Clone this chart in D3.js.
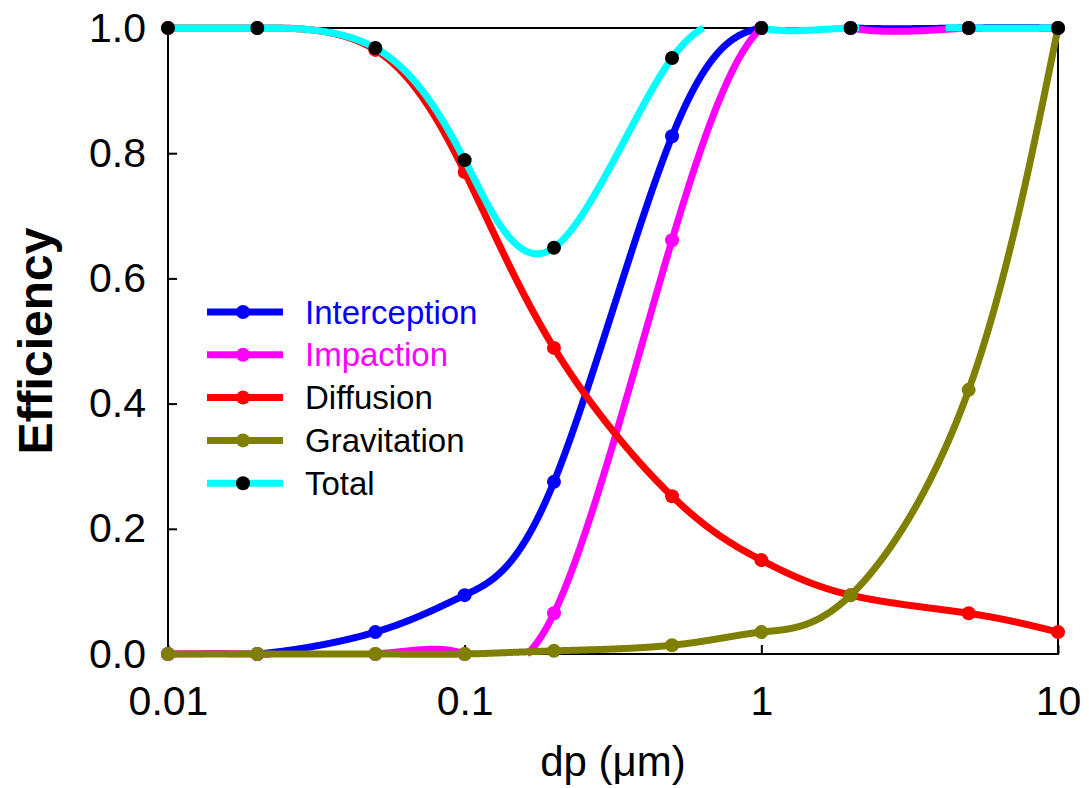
<!DOCTYPE html>
<meta charset="utf-8">
<script src="https://cdn.jsdelivr.net/npm/d3@7"></script>
<style>
  body { margin: 0; background: #fff; }
  text { font-family: Arial, "Liberation Sans", sans-serif; }
</style>

<div id="chart"></div>

<script>
// Particle diameter (um) where each efficiency was evaluated.
var dp = [0.01, 0.02, 0.05, 0.1, 0.2, 0.5, 1, 2, 5, 10];

// Collection efficiency of each mechanism.
var interception = [0.0, 0.0, 0.035, 0.094, 0.275, 0.827, 1.0, 1.0, 1.0, 1.0];
var impaction    = [0.0, 0.0, 0.0, 0.0, 0.065, 0.661, 1.0, 1.0, 1.0, 1.0];
var diffusion    = [1.0, 1.0, 0.965, 0.770, 0.489, 0.252, 0.150, 0.094, 0.065, 0.035];
var gravitation  = [0.0, 0.0, 0.0, 0.0, 0.005, 0.014, 0.035, 0.094, 0.422, 1.0];
var total        = [1.0, 1.0, 0.968, 0.789, 0.649, 0.952, 1.0, 1.0, 1.0, 1.0];

var seriesNames = ["Interception", "Impaction", "Diffusion", "Gravitation", "Total"];
var xTicks = [0.01, 0.1, 1, 10];
var yTicks = [0, 0.2, 0.4, 0.6, 0.8, 1.0];

var lineColors = ["#0000ff", "#ff00ff", "#ff0000", "#808000", "#00ffff"];
var markerColors = ["#0000ff", "#ff00ff", "#ff0000", "#808000", "#000000"];
var labelColors = ["#0000ff", "#ff00ff", "#000000", "#000000", "#000000"];

var margin = { top: 28, left: 168, bottom: 134, right: 31 };
var width = 1089 - margin.left - margin.right;
var height = 788 - margin.top - margin.bottom;

var x = d3.scaleLog().domain([0.01, 10]).range([0, width]);
var y = d3.scaleLinear().domain([0, 1]).range([height, 0]);

var svg = d3.select("#chart").append("svg")
    .attr("width", 1089)
    .attr("height", 788);

var g = svg.append("g")
    .attr("transform", "translate(" + margin.left + "," + margin.top + ")");

// Frame around the plot area.
g.append("rect")
    .attr("width", width)
    .attr("height", height)
    .attr("fill", "none")
    .attr("stroke", "#000")
    .attr("stroke-width", 2);

// y axis, ticks pointing inwards.
var yAxis = g.append("g")
    .call(d3.axisLeft(y).tickValues(yTicks).tickSize(-9).tickSizeOuter(0)
        .tickPadding(22).tickFormat(d3.format(".1f")));

// x axis, ticks pointing inwards.
var xAxis = g.append("g")
    .attr("transform", "translate(0," + height + ")")
    .call(d3.axisBottom(x).tickValues(xTicks).tickSize(-9).tickSizeOuter(0)
        .tickPadding(32).tickFormat(function(d) { return String(d); }));

[xAxis, yAxis].forEach(function(a) {
    a.select(".domain").remove();
    a.selectAll("line").attr("stroke", "#000").attr("stroke-width", 2);
    a.selectAll("text")
        .attr("fill", "#000")
        .style("font-size", "41px")
        .style("font-family", "Arial, 'Liberation Sans', sans-serif");
});

// Axis titles.
svg.append("text")
    .attr("transform", "translate(52," + (margin.top + height / 2) + ") rotate(-90)")
    .attr("text-anchor", "middle")
    .style("font-size", "48px")
    .style("font-weight", "bold")
    .text("Efficiency");

svg.append("text")
    .attr("x", margin.left + width / 2)
    .attr("y", 776)
    .attr("text-anchor", "middle")
    .style("font-size", "42px")
    .text("dp (\u03bcm)");

// Spline through the points; the parts that leave the 0..1 range are dropped,
// like the original plot which cuts the curve where it overshoots the axis.
function splinePath(values) {
    var pts = dp.map(function(d, i) { return [x(d), y(values[i])]; });
    var tmp = g.append("path").attr("d", d3.line().curve(d3.curveNatural)(pts));
    var node = tmp.node();
    var len = node.getTotalLength();
    var samples = [];
    for (var s = 0; s <= len; s += 0.5) {
        var p = node.getPointAtLength(s);
        samples.push([p.x, p.y]);
    }
    samples.push(pts[pts.length - 1]);
    tmp.remove();
    return d3.line()
        .defined(function(p) { return p[1] >= y(1) - 0.3 && p[1] <= y(0) + 0.3; })(samples);
}

var allSeries = [interception, impaction, diffusion, gravitation, total];

allSeries.forEach(function(values, k) {
    var s = g.append("g").attr("class", "series");
    s.append("path")
        .attr("d", splinePath(values))
        .attr("fill", "none")
        .attr("stroke", lineColors[k])
        .attr("stroke-width", 7);
    s.selectAll("circle")
        .data(values)
        .enter().append("circle")
        .attr("cx", function(d, i) { return x(dp[i]); })
        .attr("cy", function(d) { return y(d); })
        .attr("r", 7)
        .attr("fill", markerColors[k]);
});

// Legend.
var legend = svg.append("g")
    .attr("transform", "translate(207,312)");

seriesNames.forEach(function(name, k) {
    var row = legend.append("g")
        .attr("transform", "translate(0," + (k * 42.8) + ")");
    row.append("line")
        .attr("x1", 0)
        .attr("x2", 76)
        .attr("stroke", lineColors[k])
        .attr("stroke-width", 7);
    row.append("circle")
        .attr("cx", 36)
        .attr("r", 7)
        .attr("fill", markerColors[k]);
    row.append("text")
        .attr("x", 98)
        .attr("y", 11.5)
        .attr("fill", labelColors[k])
        .style("font-size", "33px")
        .text(name);
});
</script>
